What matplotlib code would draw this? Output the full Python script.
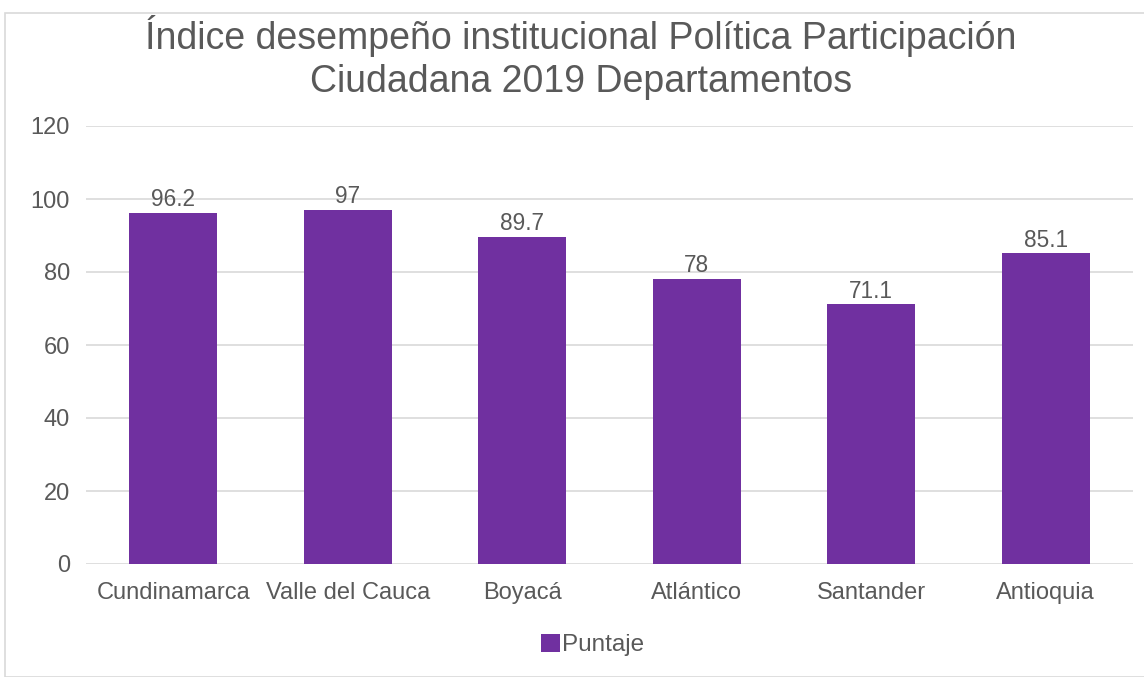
import matplotlib.pyplot as plt
from matplotlib.patches import Rectangle

plt.rcParams['font.family'] = ['Liberation Sans', 'DejaVu Sans']

departamentos = ['Cundinamarca', 'Valle del Cauca', 'Boyacá', 'Atlántico', 'Santander', 'Antioquia']
puntaje = [96.2, 97, 89.7, 78, 71.1, 85.1]
etiquetas = ['96.2', '97', '89.7', '78', '71.1', '85.1']
y_ticks = [0, 20, 40, 60, 80, 100, 120]

gris = '#595959'
morado = '#7030A0'

fig = plt.figure(figsize=(11.44, 6.77), dpi=100)
fig.patches.append(Rectangle((5 / 1144, 0), 1.0, 1 - 13 / 677, transform=fig.transFigure,
                             fill=False, edgecolor='#D9D9D9', linewidth=1.2))
ax = fig.add_axes([86 / 1144, 113 / 677, 1047 / 1144, 438 / 677])

x = range(len(departamentos))
bars = ax.bar(x, puntaje, width=0.505, color=morado, label='Puntaje', zorder=3)
for b, t in zip(bars, etiquetas):
    ax.text(b.get_x() + b.get_width() / 2, b.get_height() + 0.5, t,
            ha='center', va='bottom', fontsize=16.3, color=gris)

ax.set_xlim(-0.5, len(departamentos) - 0.5)
ax.set_ylim(0, 120)
ax.set_yticks(y_ticks)
ax.set_xticks(list(x))
ax.set_xticklabels(departamentos)
ax.tick_params(axis='both', length=0, labelsize=17, labelcolor=gris)
ax.tick_params(axis='y', pad=11.5)
ax.tick_params(axis='x', pad=13)
ax.yaxis.grid(True, color='#D9D9D9', linewidth=1.2, zorder=0)
for s in ax.spines.values():
    s.set_visible(False)

fig.suptitle('Índice desempeño institucional Política Participación\nCiudadana 2019 Departamentos',
             x=0.508, y=0.978, fontsize=27, color=gris, linespacing=1.25)

fig.legend(loc='center', bbox_to_anchor=(0.518, 1 - 645 / 677), frameon=False,
           fontsize=17.5, handlelength=0.8, handleheight=0.8, handletextpad=0.1,
           labelcolor=gris)

fig.savefig('out.png', dpi=100)
